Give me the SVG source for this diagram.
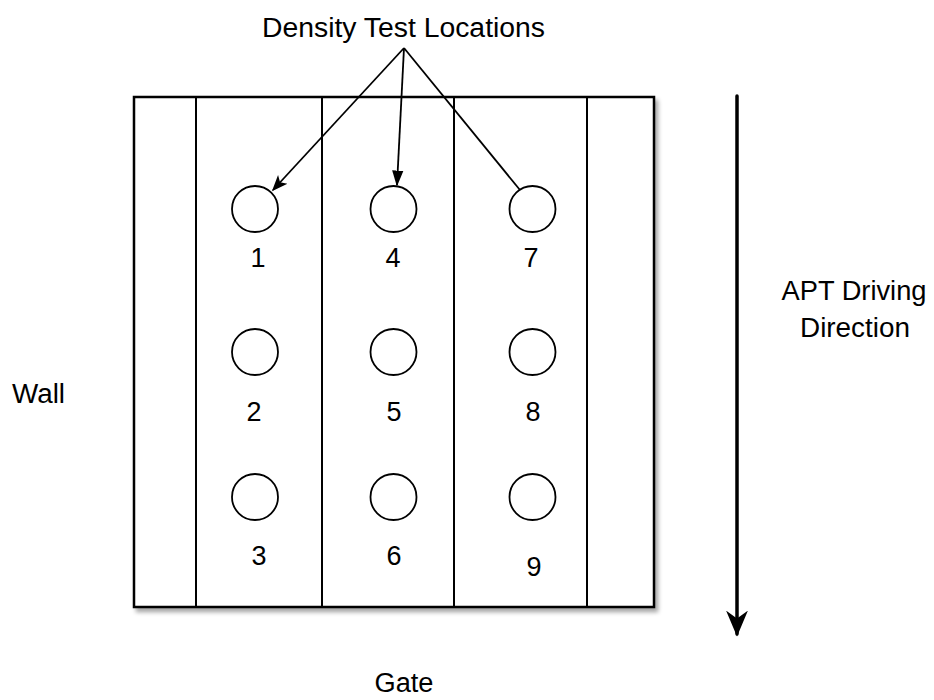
<svg xmlns="http://www.w3.org/2000/svg" width="934" height="700" viewBox="0 0 934 700">
<style>
text{font-family:"Liberation Sans",Arial,sans-serif;font-size:27px;fill:#000;text-anchor:middle}
.ln{stroke:#000;stroke-width:2;fill:none}
.c{stroke:#000;stroke-width:1.8;fill:#fff}
.cn{stroke:#000;stroke-width:1.8;fill:none}
</style>
<defs>
<filter id="sh" x="-5%" y="-5%" width="115%" height="115%">
<feGaussianBlur in="SourceAlpha" stdDeviation="2"/>
<feOffset dx="3" dy="4" result="b"/>
<feComponentTransfer><feFuncA type="linear" slope="0.35"/></feComponentTransfer>
<feMerge><feMergeNode/><feMergeNode in="SourceGraphic"/></feMerge>
</filter>
<marker id="ah" viewBox="0 0 10 10" refX="9" refY="5" markerWidth="16" markerHeight="16" markerUnits="userSpaceOnUse" orient="auto"><path d="M0,1 L10,5 L0,9 L2.5,5 Z" fill="#000"/></marker>
<marker id="ah3" viewBox="0 0 10 10" refX="9" refY="5" markerWidth="16" markerHeight="16" markerUnits="userSpaceOnUse" orient="auto"><path d="M0,1.5 L10,5 L0,8.5 Z" fill="#000"/></marker>
<marker id="ah2" viewBox="0 0 10 10" refX="9" refY="5" markerWidth="26" markerHeight="26" markerUnits="userSpaceOnUse" orient="auto"><path d="M0,0.8 L10,5 L0,9.2 L3,5 Z" fill="#000"/></marker>
</defs>
<g id="field">
<rect x="134" y="97" width="520" height="510" fill="#fff" stroke="#000" stroke-width="2.5" filter="url(#sh)"/>
<line class="ln" x1="196" y1="97" x2="196" y2="607"/>
<line class="ln" x1="322" y1="97" x2="322" y2="607"/>
<line class="ln" x1="454" y1="97" x2="454" y2="607"/>
<line class="ln" x1="587" y1="97" x2="587" y2="607"/>
</g>
<g id="p1"><circle class="c" cx="255" cy="209" r="23"/><text x="258" y="267">1</text></g>
<g id="p4"><circle class="c" cx="393.5" cy="209" r="23"/><text x="393" y="267">4</text></g>
<g id="p7"><circle class="c" cx="532.5" cy="209" r="23"/><text x="531" y="267">7</text></g>
<g id="p2"><circle class="c" cx="255" cy="352" r="23"/><text x="254" y="421">2</text></g>
<g id="p5"><circle class="c" cx="393.5" cy="352" r="23"/><text x="394" y="421">5</text></g>
<g id="p8"><circle class="c" cx="532.5" cy="352" r="23"/><text x="533" y="421">8</text></g>
<g id="p3"><circle class="c" cx="255" cy="497" r="23"/><text x="259" y="565">3</text></g>
<g id="p6"><circle class="c" cx="393.5" cy="497" r="23"/><text x="394" y="565">6</text></g>
<g id="p9"><circle class="c" cx="532.5" cy="497" r="23"/><text x="534" y="576">9</text></g>
<g id="label-density"><text x="403.5" y="37" textLength="283" lengthAdjust="spacingAndGlyphs">Density Test Locations</text></g>
<g id="label-wall"><text x="38.5" y="403" textLength="53" lengthAdjust="spacingAndGlyphs">Wall</text></g>
<g id="label-gate"><text x="404" y="692" textLength="59" lengthAdjust="spacingAndGlyphs">Gate</text></g>
<g id="label-apt"><text x="854" y="300" textLength="145" lengthAdjust="spacingAndGlyphs">APT Driving</text><text x="855" y="337" textLength="110" lengthAdjust="spacingAndGlyphs">Direction</text></g>
<g id="connectors">
<path class="cn" d="M404,48 L273,190" marker-end="url(#ah)"/>
<path class="cn" d="M404,48 L397,185" marker-end="url(#ah3)"/>
<path class="cn" d="M404,48 L520,190"/>
<path d="M737,96 L737,634" stroke="#000" stroke-width="3.5" fill="none" stroke-linecap="round" marker-end="url(#ah2)"/>
</g>
</svg>
